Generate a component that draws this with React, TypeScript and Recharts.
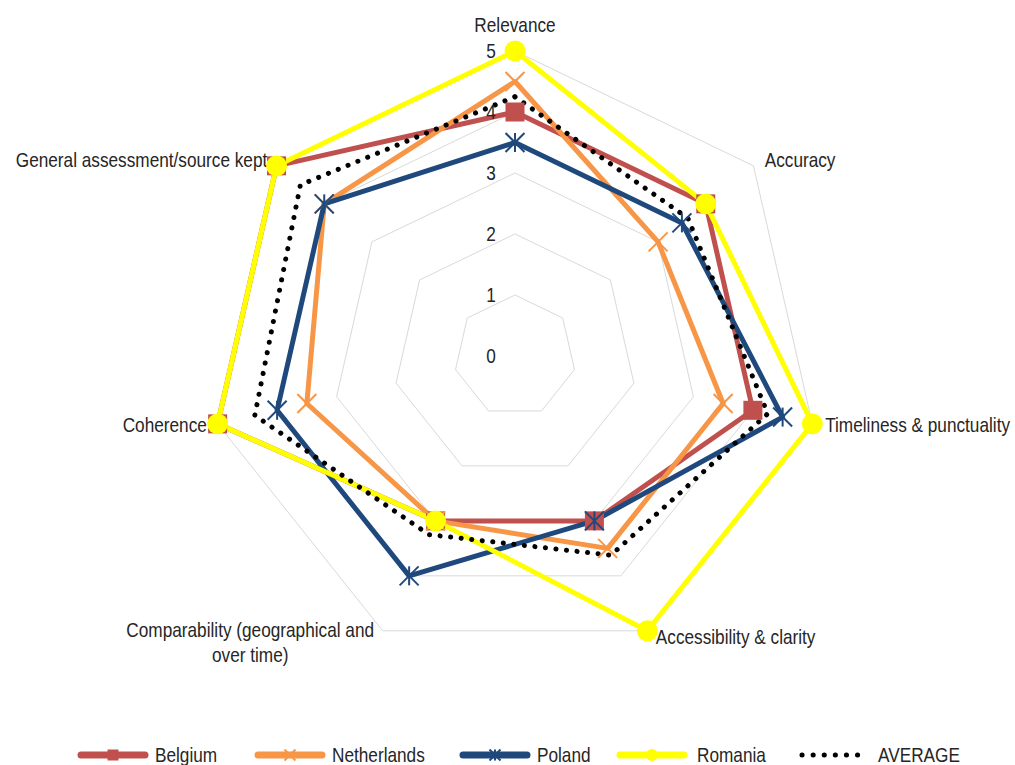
import React from 'react'
import { RadarChart, Radar, PolarGrid, PolarAngleAxis, PolarRadiusAxis, Legend } from 'recharts'

const dimensions = [
  'Relevance',
  'Accuracy',
  'Timeliness & punctuality',
  'Accessibility & clarity',
  'Comparability (geographical and over time)',
  'Coherence',
  'General assessment/source kept',
]

const belgium = [4, 4, 4, 3, 3, 5, 5]
const netherlands = [4.5, 3, 3.5, 3.5, 3, 3.5, 4]
const poland = [3.5, 3.5, 4.5, 3, 4, 4, 4]
const romania = [5, 4, 5, 5, 3, 5, 5]
const average = [4.25, 3.625, 4.25, 3.625, 3.25, 4.375, 4.5]

const scoreTicks = [0, 1, 2, 3, 4, 5]

const data = dimensions.map((name, i) => ({
  name,
  Belgium: belgium[i],
  Netherlands: netherlands[i],
  Poland: poland[i],
  Romania: romania[i],
  AVERAGE: average[i],
}))

const FONT = "'Liberation Sans', Arial, sans-serif"
const TEXT = '#262626'
const NARROW = 0.82

const COLORS = {
  Belgium: '#c0504d',
  Netherlands: '#f79646',
  Poland: '#1f497d',
  Romania: '#ffff00',
  AVERAGE: '#000000',
}

// condensed label: regular sans squeezed horizontally
const Narrow = ({ x, y, anchor, children, size = 21 }: any) => (
  <text
    transform={`translate(${x},${y}) scale(${NARROW},1)`}
    textAnchor={anchor}
    dominantBaseline="central"
    fill={TEXT}
    fontSize={size}
    fontFamily={FONT}
  >
    {children}
  </text>
)

// marker shapes, drawn around (cx, cy)
const marker = (kind: string, cx: number, cy: number, s: number, key?: any) => {
  const c = (COLORS as any)[kind]
  if (kind === 'Belgium')
    return <rect key={key} x={cx - s} y={cy - s} width={s * 2} height={s * 2} fill={c} />
  if (kind === 'Romania') return <circle key={key} cx={cx} cy={cy} r={s * 1.1} fill={c} />
  if (kind === 'Netherlands')
    return (
      <g key={key} stroke={c} strokeWidth={2}>
        <line x1={cx - s} y1={cy - s} x2={cx + s} y2={cy + s} />
        <line x1={cx - s} y1={cy + s} x2={cx + s} y2={cy - s} />
      </g>
    )
  if (kind === 'Poland')
    return (
      <g key={key} stroke={c} strokeWidth={2}>
        <line x1={cx - s} y1={cy - s} x2={cx + s} y2={cy + s} />
        <line x1={cx - s} y1={cy + s} x2={cx + s} y2={cy - s} />
        <line x1={cx} y1={cy - s} x2={cx} y2={cy + s} />
      </g>
    )
  return <g key={key} />
}

const dotFor = (kind: string) => (props: any) =>
  marker(kind, props.cx, props.cy, 9.5, props.key ?? `${kind}-${props.index}`)

// angle labels sit just outside the outer ring, long ones wrap onto two centred lines
const AngleTick = (props: any) => {
  const { x, y, textAnchor, payload } = props
  const label: string = payload.value
  if (textAnchor === 'middle') {
    return <Narrow x={x} y={y - 18} anchor="middle">{label}</Narrow>
  }
  const dx = textAnchor === 'start' ? 5 : -3
  if (label.length > 32) {
    const cut = label.lastIndexOf(' ', 32)
    const lines = [label.slice(0, cut), label.slice(cut + 1)]
    const half = 126
    const cx = textAnchor === 'end' ? x + dx - half : x + dx + half
    return (
      <g>
        {lines.map((l, i) => (
          <Narrow key={i} x={cx} y={y - 8 + i * 25} anchor="middle">{l}</Narrow>
        ))}
      </g>
    )
  }
  return <Narrow x={x + dx} y={y - 1} anchor={textAnchor}>{label}</Narrow>
}

const RadiusTick = (props: any) => (
  <Narrow x={props.x - 24} y={props.y} anchor="middle">{props.payload.value}</Narrow>
)

const seriesNames = ['Belgium', 'Netherlands', 'Poland', 'Romania', 'AVERAGE']
const legendStarts = [78, 255, 460, 617, 800]

const LegendContent = () => (
  <svg width={1015} height={24} style={{ display: 'block' }}>
    {seriesNames.map((n, i) => {
      const x0 = legendStarts[i]
      return (
        <g key={n}>
          {n === 'AVERAGE' ? (
            <line x1={x0 + 2} y1={12} x2={x0 + 62} y2={12} stroke="#000" strokeWidth={5} strokeLinecap="round" strokeDasharray="0.1 11" />
          ) : (
            <>
              <line x1={x0 + 3} y1={12} x2={x0 + 67} y2={12} stroke={(COLORS as any)[n]} strokeWidth={7} strokeLinecap="round" />
              {marker(n, x0 + 35, 12, 5.5)}
            </>
          )}
          <Narrow x={x0 + (n === 'AVERAGE' ? 78 : n === 'Romania' ? 80 : 77)} y={12} anchor="start">{n}</Narrow>
        </g>
      )
    })}
  </svg>
)

export default function App() {
  return (
    <div style={{ position: 'absolute', left: 0, top: 0, background: '#fff' }}>
      <RadarChart width={1015} height={765} data={data} cx={515} cy={356} outerRadius={305} style={{ fontFamily: FONT }}>
        <PolarGrid gridType="polygon" radialLines={false} stroke="#d9d9d9" strokeWidth={1} />
        <PolarAngleAxis dataKey="name" tick={AngleTick} tickLine={false} axisLine={false} />
        <PolarRadiusAxis angle={90} domain={[0, 5]} ticks={scoreTicks as any} tickCount={6} tick={RadiusTick} axisLine={false} tickLine={false} />
        {['Belgium', 'Netherlands', 'Poland', 'Romania'].map((n) => (
          <Radar
            key={n}
            name={n}
            dataKey={n}
            stroke={(COLORS as any)[n]}
            strokeWidth={5}
            fill="none"
            fillOpacity={0}
            strokeLinejoin="round"
            dot={dotFor(n)}
            isAnimationActive={false}
          />
        ))}
        <Radar
          name="AVERAGE"
          dataKey="AVERAGE"
          stroke="#000"
          strokeWidth={5}
          strokeLinecap="round"
          strokeDasharray="0.1 10.5"
          fill="none"
          fillOpacity={0}
          dot={false}
          isAnimationActive={false}
        />
        <Legend content={LegendContent} wrapperStyle={{ position: 'absolute', left: 0, top: 743, width: 1015 }} />
      </RadarChart>
    </div>
  )
}
